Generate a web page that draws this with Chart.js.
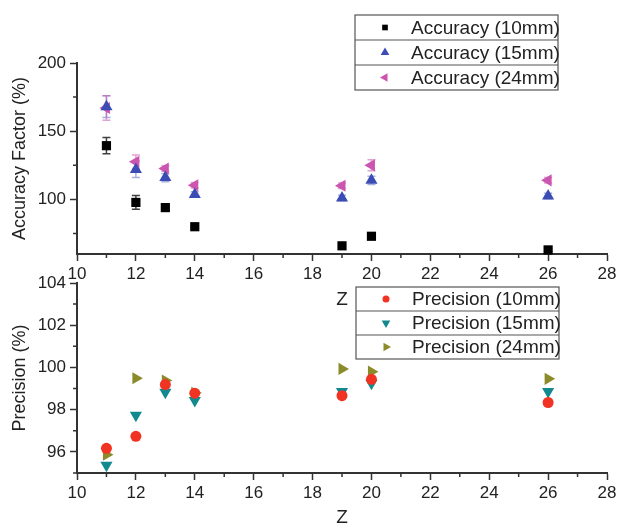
<!DOCTYPE html>
<html>
<head>
<meta charset="utf-8">
<title>Accuracy and precision vs Z</title>
<script src="https://cdn.jsdelivr.net/npm/chart.js@4.4.0/dist/chart.umd.min.js"></script>
<style>
	html, body { margin: 0; padding: 0; background: #fff; }
	#wrap { position: relative; width: 621px; height: 527px; }
	#wrap canvas { position: absolute; left: 0; top: 0; }
</style>
</head>
<body>
<div id="wrap">
	<canvas id="graphique-precision" width="621" height="527"></canvas>
	<canvas id="graphique-accuracy" width="621" height="527"></canvas>
</div>
<script>
// atomic number of each sample
const zValues = [11, 12, 13, 14, 19, 20, 26];

// accuracy factor (%) and its error bars
const accuracy10 = [139.4, 97.8, 94, 80, 66, 73, 63];
const accuracy15 = [168, 122, 116, 103.6, 101, 114, 102.5];
const accuracy24 = [167, 127.6, 122.6, 110.4, 110, 125, 114];
const erreur10 = [6, 5, 1, 1, 1, 1, 1];
const erreur15 = [8, 6, 3, 2, 2, 3, 2];
const erreur24 = [9, 5, 2, 2, 2, 4, 2];

// precision (%)
const precision10 = [96.17, 96.74, 99.19, 98.78, 98.66, 99.44, 98.34];
const precision15 = [95.37, 97.73, 98.83, 98.43, 98.86, 99.25, 98.86];
const precision24 = [95.87, 99.49, 99.38, 98.8, 99.93, 99.8, 99.46];

// tick labels
const xTicks = [10, 12, 14, 16, 18, 20, 22, 24, 26, 28];
const xMinor = [11, 13, 15, 17, 19, 21, 23, 25, 27];
const yTicksAccuracy = [100, 150, 200];
const yMinorAccuracy = [75, 125, 175];
const yTicksPrecision = [96, 98, 100, 102, 104];
const yMinorPrecision = [95, 97, 99, 101, 103];

const axisColor = "#333";
const textColor = "#222";
Chart.defaults.font.family = '"Liberation Sans", Arial, sans-serif';
Chart.defaults.color = textColor;

function points(ys) {
	return zValues.map((z, i) => ({x: z, y: ys[i]}));
}

// error bars, drawn under the markers
const errorBars = {
	id: "errorBars",
	beforeDatasetsDraw(chart) {
		const ctx = chart.ctx;
		const yScale = chart.scales.y;
		chart.data.datasets.forEach((ds, di) => {
			if (!ds.errors) return;
			const meta = chart.getDatasetMeta(di);
			ctx.save();
			ctx.strokeStyle = ds.errorColor;
			ctx.lineWidth = 1.5;
			meta.data.forEach((pt, i) => {
				const v = ds.data[i].y;
				const top = yScale.getPixelForValue(v + ds.errors[i]);
				const bot = yScale.getPixelForValue(v - ds.errors[i]);
				ctx.beginPath();
				ctx.moveTo(pt.x, top); ctx.lineTo(pt.x, bot);
				ctx.moveTo(pt.x - 4, top); ctx.lineTo(pt.x + 4, top);
				ctx.moveTo(pt.x - 4, bot); ctx.lineTo(pt.x + 4, bot);
				ctx.stroke();
			});
			ctx.restore();
		});
	}
};

// short minor ticks on both axes
const minorTicks = {
	id: "minorTicks",
	afterDraw(chart, args, opts) {
		const ctx = chart.ctx;
		const area = chart.chartArea;
		ctx.save();
		ctx.strokeStyle = axisColor;
		ctx.lineWidth = 1.5;
		ctx.beginPath();
		for (const v of opts.x) {
			const px = chart.scales.x.getPixelForValue(v);
			ctx.moveTo(px, area.bottom); ctx.lineTo(px, area.bottom + 4);
		}
		for (const v of opts.y) {
			const py = chart.scales.y.getPixelForValue(v);
			ctx.moveTo(area.left, py); ctx.lineTo(area.left - 4, py);
		}
		ctx.stroke();
		ctx.restore();
	}
};

// boxed legend with one row per series
const boxLegend = {
	id: "boxLegend",
	afterDraw(chart, args, opts) {
		const ctx = chart.ctx;
		const n = chart.data.datasets.length;
		ctx.save();
		ctx.fillStyle = "#fff";
		ctx.fillRect(opts.left, opts.top, opts.width, opts.rowHeight * n);
		ctx.strokeStyle = "#555";
		ctx.lineWidth = 1.2;
		ctx.strokeRect(opts.left, opts.top, opts.width, opts.rowHeight * n);
		for (let i = 1; i < n; i++) {
			ctx.beginPath();
			ctx.moveTo(opts.left, opts.top + i * opts.rowHeight);
			ctx.lineTo(opts.left + opts.width, opts.top + i * opts.rowHeight);
			ctx.stroke();
		}
		ctx.font = '19px "Liberation Sans", Arial, sans-serif';
		ctx.textBaseline = "middle";
		chart.data.datasets.forEach((ds, i) => {
			const cy = opts.top + (i + 0.5) * opts.rowHeight;
			ctx.fillStyle = ds.backgroundColor;
			ctx.strokeStyle = ds.backgroundColor;
			Chart.helpers.drawPoint(ctx, {
				pointStyle: ds.pointStyle,
				rotation: ds.rotation || 0,
				radius: ds.pointStyle === "rect" ? 4 : (ds.pointStyle === "circle" ? 3.5 : 5),
				borderWidth: 0
			}, opts.left + opts.markerX, cy);
			ctx.fillStyle = textColor;
			ctx.fillText(ds.label, opts.left + opts.textX, cy + 1);
		});
		ctx.restore();
	}
};

function axes(yMin, yMax, yTicks, xTitlePad, xHeight) {
	return {
		x: {
			type: "linear", min: 10, max: 28,
			afterBuildTicks: s => { s.ticks = xTicks.map(v => ({value: v})); },
			afterFit: s => { s.height = xHeight; },
			ticks: {font: {size: 17}, color: textColor, padding: 3},
			grid: {drawOnChartArea: false, tickLength: 7, tickWidth: 1.5, tickColor: axisColor},
			border: {color: axisColor, width: 2},
			title: {display: true, text: "Z", font: {size: 19, lineHeight: 1}, color: textColor, padding: {top: 0, bottom: xTitlePad}}
		},
		y: {
			type: "linear", min: yMin, max: yMax,
			afterBuildTicks: s => { s.ticks = yTicks.map(v => ({value: v})); },
			afterFit: s => { s.width = 77; },
			ticks: {font: {size: 17}, color: textColor, padding: 4},
			grid: {drawOnChartArea: false, tickLength: 7, tickWidth: 1.5, tickColor: axisColor},
			border: {color: axisColor, width: 2},
			title: {display: true, font: {size: 18, lineHeight: 1}, color: textColor, padding: {top: 11, bottom: 0}}
		}
	};
}

function serie(label, ys, color, style, rotation, radius) {
	return {
		label: label,
		data: points(ys),
		backgroundColor: color,
		borderColor: color,
		pointStyle: style,
		rotation: rotation,
		pointRadius: radius,
		pointHoverRadius: radius,
		pointBorderWidth: 0,
		clip: false
	};
}

const scalesAccuracy = axes(60, 200, yTicksAccuracy, 4.5, 60);
scalesAccuracy.y.title.text = "Accuracy Factor (%)";
const dsA10 = serie("Accuracy (10mm)", accuracy10, "#000000", "rect", 0, 6.5);
dsA10.errors = erreur10; dsA10.errorColor = "rgba(0,0,0,0.75)";
const dsA15 = serie("Accuracy (15mm)", accuracy15, "#3b4db5", "triangle", 0, 7);
dsA15.errors = erreur15; dsA15.errorColor = "rgba(59,77,181,0.45)";
const dsA24 = serie("Accuracy (24mm)", accuracy24, "#cc55b0", "triangle", -90, 7);
dsA24.errors = erreur24; dsA24.errorColor = "rgba(204,85,176,0.55)";

new Chart(document.querySelector("#graphique-accuracy"), {
	type: "scatter",
	data: {datasets: [dsA10, dsA15, dsA24]},
	options: {
		responsive: false,
		animation: false,
		events: [],
		layout: {padding: {top: 63, left: 0, right: 14, bottom: 213}},
		scales: scalesAccuracy,
		plugins: {
			legend: {display: false},
			tooltip: {enabled: false},
			minorTicks: {x: xMinor, y: yMinorAccuracy},
			boxLegend: {left: 355, top: 15, width: 203, rowHeight: 25, markerX: 30, textX: 56}
		}
	},
	plugins: [errorBars, minorTicks, boxLegend]
});

const scalesPrecision = axes(95, 104, yTicksPrecision, 0, 54);
scalesPrecision.y.title.text = "Precision (%)";

new Chart(document.querySelector("#graphique-precision"), {
	type: "scatter",
	data: {datasets: [
		serie("Precision (10mm)", precision10, "#f03322", "circle", 0, 5.5),
		serie("Precision (15mm)", precision15, "#12898f", "triangle", 180, 7),
		serie("Precision (24mm)", precision24, "#8c8b2a", "triangle", 90, 7)
	]},
	options: {
		responsive: false,
		animation: false,
		events: [],
		layout: {padding: {top: 283, left: 0, right: 14, bottom: 0}},
		scales: scalesPrecision,
		plugins: {
			legend: {display: false},
			tooltip: {enabled: false},
			minorTicks: {x: xMinor, y: yMinorPrecision},
			boxLegend: {left: 356, top: 287, width: 203, rowHeight: 24, markerX: 30, textX: 56}
		}
	},
	plugins: [minorTicks, boxLegend]
});
</script>
</body>
</html>
